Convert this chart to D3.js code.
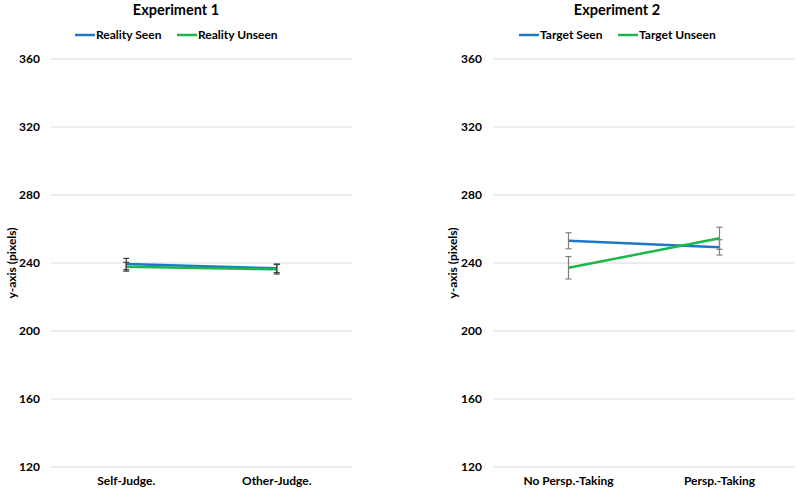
<!DOCTYPE html>
<html>
<head>
<meta charset="utf-8">
<script src="https://cdn.jsdelivr.net/npm/d3@7"></script>
<style>
  body { margin: 0; background: #fff; }
  text { font-family: Lato, "Open Sans", sans-serif; font-weight: bold; fill: #000; }
</style>
</head>
<body>
<script>
const yTicks = [120, 160, 200, 240, 280, 320, 360];

// Experiment 1
const exp1Categories = ["Self-Judge.", "Other-Judge."];
const exp1Seen = [239.4, 236.9];
const exp1SeenErr = [3.3, 2.5];
const exp1Unseen = [237.8, 236.3];
const exp1UnseenErr = [2.6, 2.8];

// Experiment 2
const exp2Categories = ["No Persp.-Taking", "Persp.-Taking"];
const exp2Seen = [253.1, 249.2];
const exp2SeenErr = [4.7, 4.5];
const exp2Unseen = [237.2, 254.5];
const exp2UnseenErr = [6.6, 6.5];

const width = 798, height = 494;
const svg = d3.select("body").append("svg")
    .attr("width", width)
    .attr("height", height);

const y = d3.scaleLinear().domain([120, 360]).range([467, 59]);

function panel(opts) {
    const x = d3.scaleBand().domain(opts.categories).range([opts.x0, opts.x1]);
    const g = svg.append("g");

    // grid
    g.selectAll("line.grid")
        .data(yTicks)
        .enter().append("line")
        .attr("x1", opts.x0).attr("x2", opts.x1)
        .attr("y1", d => y(d)).attr("y2", d => y(d))
        .attr("stroke", "#d9d9d9")
        .attr("stroke-width", 1);

    // y tick labels
    g.selectAll("text.ytick")
        .data(yTicks)
        .enter().append("text")
        .attr("x", opts.x0 - 11)
        .attr("y", d => y(d))
        .attr("dy", "0.35em")
        .attr("text-anchor", "end")
        .attr("font-size", 12)
        .text(d => d);

    // x labels
    g.selectAll("text.xtick")
        .data(opts.categories)
        .enter().append("text")
        .attr("x", d => x(d) + x.bandwidth() / 2)
        .attr("y", 485)
        .attr("text-anchor", "middle")
        .attr("font-size", 12)
        .text(d => d);

    // y axis label
    g.append("text")
        .attr("transform", `translate(${opts.yLabelX}, ${y(240)}) rotate(-90)`)
        .attr("text-anchor", "middle")
        .attr("dy", "0.35em")
        .attr("font-size", 12)
        .text("y-axis (pixels)");

    // title
    g.append("text")
        .attr("x", opts.titleX)
        .attr("y", 15)
        .attr("text-anchor", "middle")
        .attr("font-size", 14.5)
        .text(opts.title);

    // legend
    const legend = g.append("g").attr("transform", `translate(${opts.legendX}, 35)`);
    opts.series.forEach((s, i) => {
        const lx = i * opts.legendGap;
        legend.append("line")
            .attr("x1", lx).attr("x2", lx + 20)
            .attr("y1", 0).attr("y2", 0)
            .attr("stroke", s.color).attr("stroke-width", 2.5);
        legend.append("text")
            .attr("x", lx + 21)
            .attr("y", 0)
            .attr("dy", "0.35em")
            .attr("font-size", 12)
            .text(s.name);
    });

    // series
    opts.series.forEach(s => {
        const pts = opts.categories.map((c, i) => ({ c, v: s.values[i], e: s.err[i] }));
        const cx = d => x(d.c) + x.bandwidth() / 2;

        g.append("path")
            .datum(pts)
            .attr("fill", "none")
            .attr("stroke", s.color)
            .attr("stroke-width", 2.5)
            .attr("d", d3.line().x(cx).y(d => y(d.v)));

        const eb = g.append("g").selectAll("g")
            .data(pts)
            .enter().append("g");
        eb.append("line")
            .attr("x1", cx).attr("x2", cx)
            .attr("y1", d => y(d.v + d.e)).attr("y2", d => y(d.v - d.e))
            .attr("stroke", opts.errColor).attr("stroke-width", 1.2);
        eb.append("line")
            .attr("x1", d => cx(d) - 3).attr("x2", d => cx(d) + 3)
            .attr("y1", d => y(d.v + d.e)).attr("y2", d => y(d.v + d.e))
            .attr("stroke", opts.errColor).attr("stroke-width", 1.2);
        eb.append("line")
            .attr("x1", d => cx(d) - 3).attr("x2", d => cx(d) + 3)
            .attr("y1", d => y(d.v - d.e)).attr("y2", d => y(d.v - d.e))
            .attr("stroke", opts.errColor).attr("stroke-width", 1.2);
    });
}

panel({
    title: "Experiment 1",
    titleX: 176,
    categories: exp1Categories,
    x0: 51, x1: 352,
    yLabelX: 12,
    legendX: 75, legendGap: 102,
    errColor: "#404040",
    series: [
        { name: "Reality Seen", values: exp1Seen, err: exp1SeenErr, color: "#1f77c8" },
        { name: "Reality Unseen", values: exp1Unseen, err: exp1UnseenErr, color: "#1ab74b" }
    ]
});

panel({
    title: "Experiment 2",
    titleX: 617,
    categories: exp2Categories,
    x0: 493, x1: 795,
    yLabelX: 453,
    legendX: 519, legendGap: 99,
    errColor: "#7f7f7f",
    series: [
        { name: "Target Seen", values: exp2Seen, err: exp2SeenErr, color: "#1f77c8" },
        { name: "Target Unseen", values: exp2Unseen, err: exp2UnseenErr, color: "#1ab74b" }
    ]
});
</script>
</body>
</html>
